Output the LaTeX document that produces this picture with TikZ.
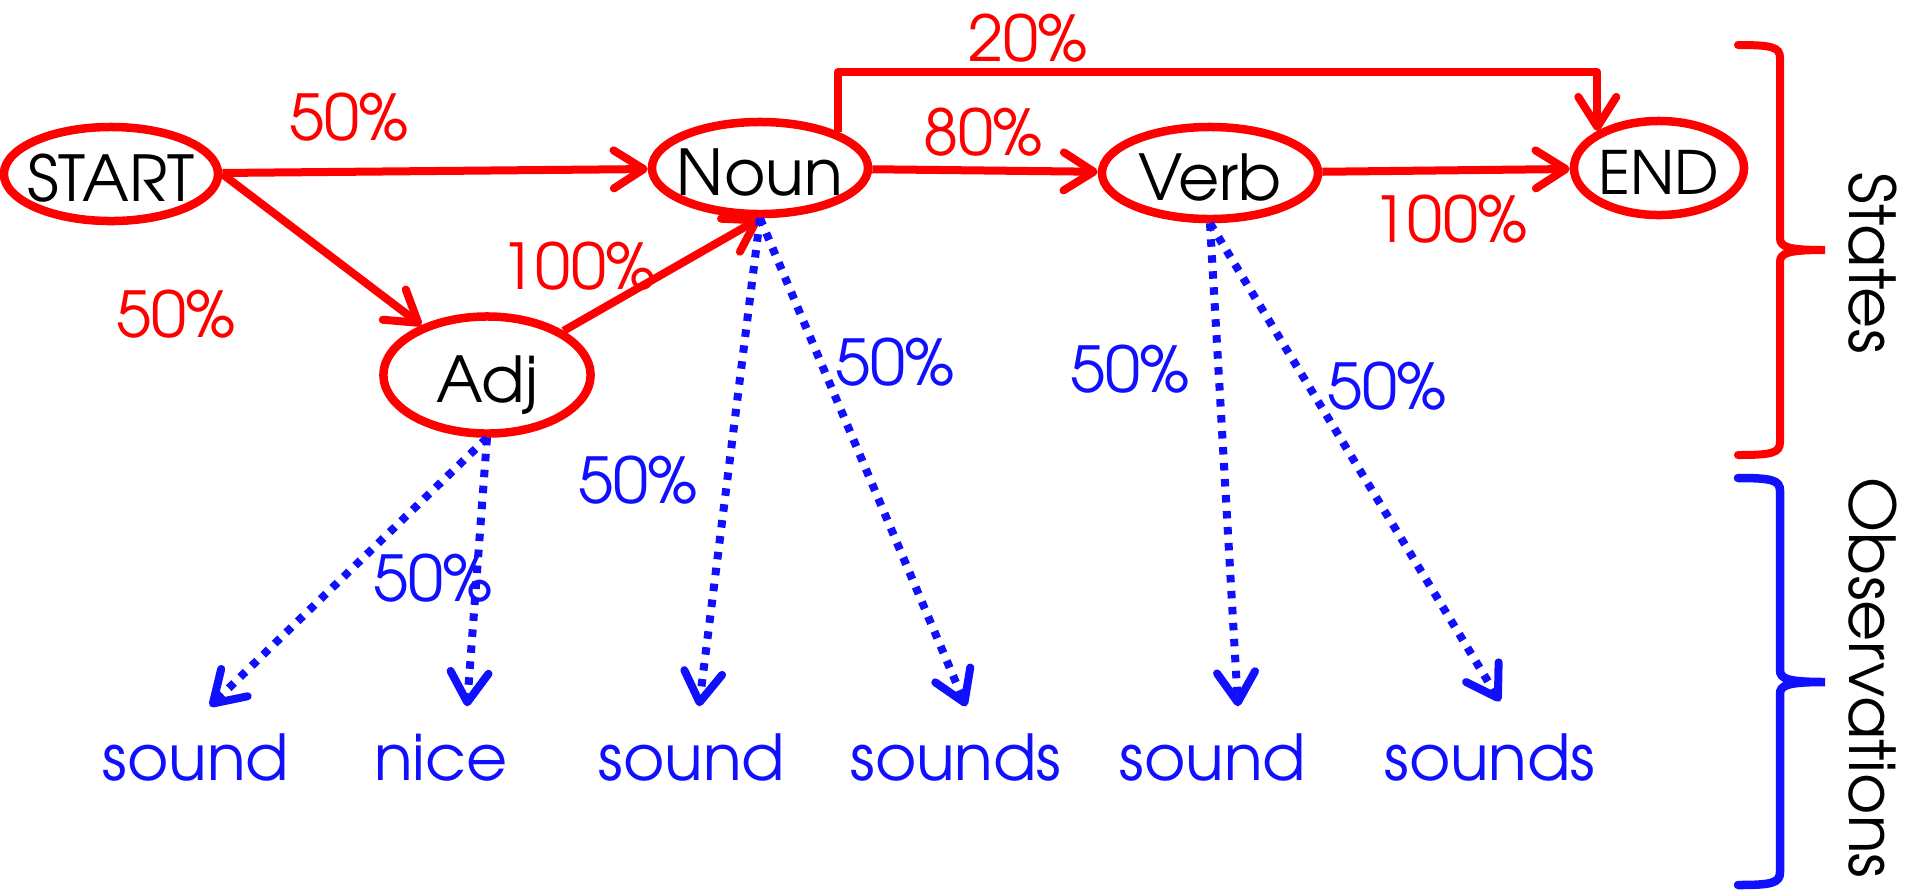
\documentclass[tikz,border=0pt]{standalone}
\usepackage{fontspec}
\setmainfont{texgyreadventor-regular.otf}
\usetikzlibrary{shapes.geometric,arrows.meta,calc}
\definecolor{hmmred}{RGB}{255,0,0}
\definecolor{hmmblue}{RGB}{16,16,255}
\tikzset{
  state/.style={ellipse, draw=hmmred, line width=0.085cm, inner sep=0pt},
  trans/.style={draw=hmmred, line width=0.08cm, line join=round, ->},
  emit/.style={draw=hmmblue, line width=0.08cm, dash pattern=on 0.075cm off 0.085cm,
    -{Straight Barb[length=0.3cm,width=0.38cm,round]}},
  redlbl/.style={text=hmmred, inner sep=0pt},
  bluelbl/.style={text=hmmblue, inner sep=0pt},
  word/.style={text=hmmblue, inner sep=0pt, anchor=base, text height=0.47cm, text depth=0pt},
  every label/.style={text depth=0pt, inner sep=0pt, yshift=-0.04cm},
}
\begin{document}
\begin{tikzpicture}[x=0.01cm, y=-0.01cm, >={Straight Barb[length=0.3cm,width=0.38cm,round]},
    every node/.style={font=\fontsize{18}{20}\selectfont}]
\useasboundingbox (0,0) rectangle (1905,890);

% states
\node[state, minimum width=2.14cm, minimum height=0.94cm, label=center:START] (start) at (111,174) {};
\node[state, minimum width=2.07cm, minimum height=1.17cm, label=center:Adj] (adj) at (487,375) {};
\node[state, minimum width=2.16cm, minimum height=0.92cm, label=center:Noun] (noun) at (760,168) {};
\node[state, minimum width=2.16cm, minimum height=0.92cm, label=center:Verb] (verb) at (1210,173) {};
\node[state, minimum width=1.70cm, minimum height=0.94cm,
  label={[font=\fontsize{17}{19}\selectfont]center:END}] (end) at (1659,168) {};

% transitions
\coordinate (top20) at (0,72);
\draw[trans] (start) -- (noun);
\draw[trans] (start.east) -- (adj);
\draw[trans] (adj.30) -- (noun.south);
\draw[trans] (noun) -- (verb);
\draw[trans] (verb) -- (end);
\draw[trans] (noun.25) -- (noun.25 |- top20) -- (end.149 |- top20) -- (end.149);

\node[redlbl] (p1) at (349,117) {50\%};
\node[redlbl] (p2) at (176,314) {50\%};
\node[redlbl] (p3) at (578,266) {100\%};
\node[redlbl] (p4) at (983,132) {80\%};
\node[redlbl] (p5) at (1028,38) {20\%};
\node[redlbl] (p6) at (1450,219) {100\%};

% observations
\node[word] (o1) at (196,780) {sound};
\node[word] (o2) at (441,780) {nice};
\node[word] (o3) at (692,780) {sound};
\node[word] (o4) at (956,780) {sounds};
\node[word] (o5) at (1213,780) {sound};
\node[word] (o6) at (1490,780) {sounds};

\draw[emit] (adj.south) -- ($(o1.north)+(14,-26)$);
\draw[emit] (adj.south) -- ($(o2.north)+(26,-26)$);
\draw[emit] (noun.south) -- ($(o3.north)+(7,-26)$);
\draw[emit] (noun.south) -- ($(o4.north)+(10,-26)$);
\draw[emit] (verb.south) -- ($(o5.north)+(25,-26)$);
\draw[emit] (verb.south) -- ($(o6.north)+(10,-31)$);

\node[bluelbl] (q1) at (433,578) {50\%};
\node[bluelbl] (q2) at (638,480) {50\%};
\node[bluelbl] (q3) at (895,362) {50\%};
\node[bluelbl] (q4) at (1130,369) {50\%};
\node[bluelbl] (q5) at (1387,386) {50\%};

% brackets
\draw[hmmred, line width=0.08cm, line cap=round] (1738,45) .. controls (1772,45) and (1780,47) .. (1780,58)
  -- (1780,238) .. controls (1780,247) and (1788,250) .. (1825,250)
  .. controls (1788,250) and (1780,253) .. (1780,262) -- (1780,442)
  .. controls (1780,453) and (1772,455) .. (1738,455);
\draw[hmmblue, line width=0.085cm, line cap=round] (1738,478) .. controls (1772,478) and (1780,480) .. (1780,491)
  -- (1780,670) .. controls (1780,679) and (1788,682) .. (1825,682)
  .. controls (1788,682) and (1780,685) .. (1780,694) -- (1780,872)
  .. controls (1780,883) and (1772,885) .. (1738,885);
\node[rotate=-90] (states) at (1873,263) {States};
\node[rotate=-90] (obs) at (1873,678) {Observations};
\end{tikzpicture}
\end{document}
